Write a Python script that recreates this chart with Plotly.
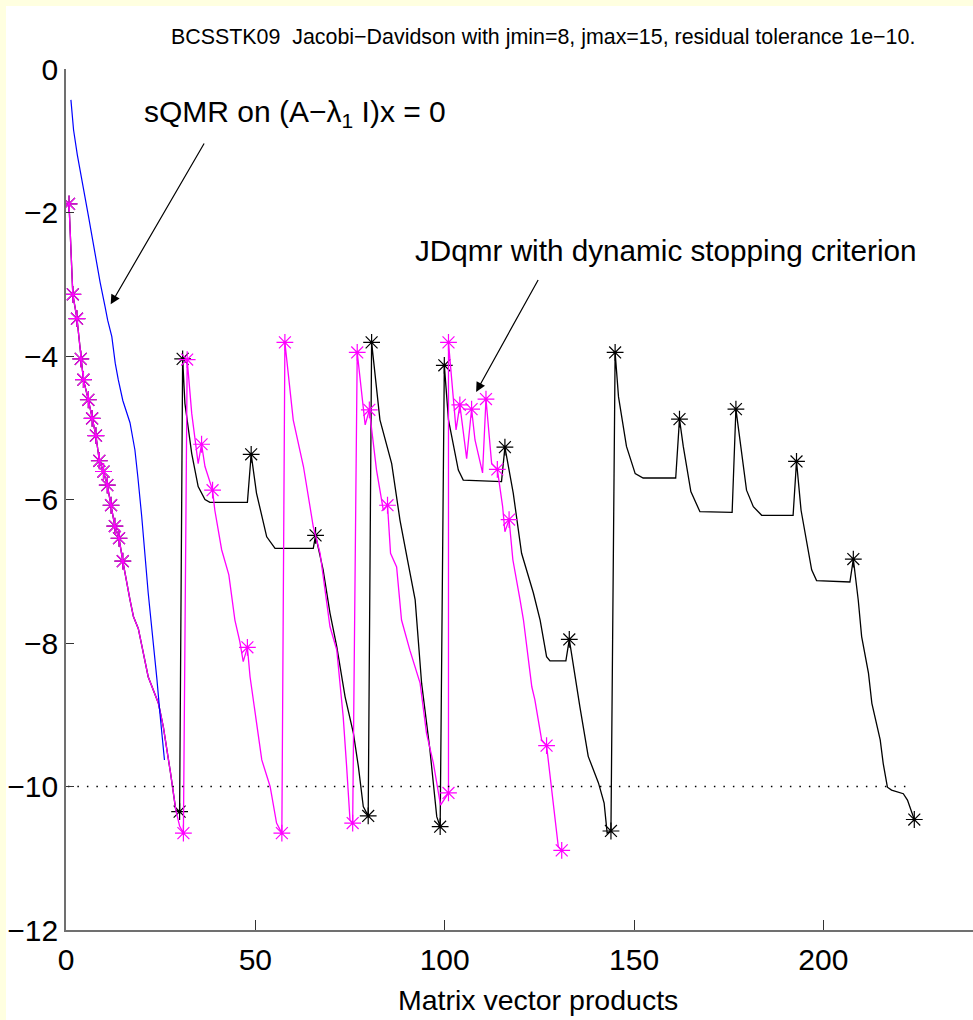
import plotly.graph_objects as go

# ---------------- data ----------------
# sQMR on (A - lambda_1 I)x = 0
blue_x = [1.3, 2, 3, 4.1, 5, 6, 7, 8, 9, 10.3, 11, 12.1, 13, 13.8, 15, 16.9, 18.2, 19, 20, 21.7, 23, 24, 24.8, 26]
blue_y = [-0.43, -0.85, -1.2, -1.5, -1.78, -2.07, -2.37, -2.68, -2.97, -3.31, -3.5, -3.73, -4.1, -4.33, -4.62, -4.93,
          -5.31, -5.7, -6.24, -7.3, -7.95, -8.5, -8.98, -9.63]

# first part shared by both JD runs
shared_x = [0.8, 1.8, 2.9, 3.9, 4.6, 5.9, 6.9, 7.9, 8.8, 9.9, 10.9, 11.9, 12.9, 14.0, 15.0,
            16.9, 17.8, 19.1, 21.7, 24.4, 25.7, 27.6, 29.0]
shared_y = [-1.88, -3.14, -3.48, -4.04, -4.33, -4.61, -4.87, -5.11, -5.46, -5.61, -5.8, -6.08, -6.37, -6.54, -6.86,
            -7.4, -7.63, -7.8, -8.47, -8.84, -9.17, -9.81, -10.33]
shared_star = [1] * 15 + [0] * 8

# JD (black)
black_x = [30.0, 30.8, 31.4, 33.2, 34.9, 36.7, 38.0, 47.9, 48.9, 50.3, 53.0, 55.2, 65.3, 65.9, 67.9, 69.7, 71.5,
           73.7, 75.9, 77.2, 78.5, 79.8, 80.7, 82.9, 86.0, 88.2, 90.2, 92.2, 93.9, 96.1, 97.9, 98.8, 99.9,
           101.0, 103.6, 104.9, 115.0, 115.9, 118.1, 120.3, 123.4, 125.2, 126.9, 127.8, 132.0, 132.9, 135.7,
           137.9, 140.6, 142.1, 142.9, 143.9, 145.0, 145.9, 148.0, 150.3, 152.4, 161.0, 162.0, 163.0, 165.0,
           167.4, 175.9, 176.9, 179.7, 181.5, 183.7, 192.0, 192.9, 194.1, 196.9, 198.2, 207.0, 207.9, 209.2,
           210.1, 211.9, 212.8, 215.0, 215.8, 216.9, 218.0, 221.1, 222.2, 224.0]
black_y = [-10.35, -4.04, -4.66, -5.36, -5.82, -6.0, -6.04, -6.04, -5.37, -5.91, -6.52, -6.68, -6.68, -6.5, -6.98,
           -7.58, -8.05, -8.75, -9.26, -9.72, -10.28, -10.41, -3.81, -4.89, -5.5, -6.29, -6.85, -7.4, -8.56, -9.49,
           -10.42, -10.56, -4.13, -4.89, -5.59, -5.73, -5.75, -5.27, -5.91, -6.75, -7.3, -7.68, -8.19, -8.25,
           -8.25, -7.95, -8.89, -9.58, -9.95, -10.23, -10.65, -10.62, -3.95, -4.57, -5.26, -5.64, -5.7, -5.7,
           -4.88, -5.26, -5.89, -6.17, -6.18, -4.74, -5.87, -6.1, -6.22, -6.22, -5.47, -6.15, -6.98, -7.13, -7.15,
           -6.83, -7.4, -7.91, -8.42, -8.84, -9.35, -9.68, -10.01, -10.05, -10.1, -10.19, -10.46]
black_star = [1, 1, 0, 0, 0, 0, 0, 0, 1, 0, 0, 0, 0, 1, 0, 0, 0, 0, 0, 0, 0, 1, 1, 0, 0, 0, 0, 0, 0, 0, 0, 1, 1,
              0, 0, 0, 0, 1, 0, 0, 0, 0, 0, 0, 0, 1, 0, 0, 0, 0, 0, 1, 1, 0, 0, 0, 0, 0, 1, 0, 0, 0, 0, 1, 0, 0,
              0, 0, 1, 0, 0, 0, 0, 1, 0, 0, 0, 0, 0, 0, 0, 0, 0, 0, 1]

# JDqmr with dynamic stopping criterion (magenta)
mag_x = [30.0, 31.0, 32.0, 33.2, 34.9, 35.8, 36.7, 38.7, 39.3, 41.1, 43.0, 44.6, 45.9, 46.8, 47.9, 48.6, 51.7,
         53.9, 55.6, 57.0, 57.8, 60.0, 62.7, 65.3, 67.1, 69.7, 71.5, 73.2, 74.1, 75.0, 75.7, 76.9, 79.0, 80.1,
         82.0, 83.8, 84.9, 85.7, 87.3, 88.6, 90.8, 93.5, 95.2, 97.0, 98.9, 101.0, 101.0, 103.0, 104.0, 105.8,
         107.1, 108.0, 110.0, 110.9, 112.4, 113.9, 115.3, 115.9, 117.0, 118.0, 119.9, 120.8, 123.0, 123.8,
         125.6, 126.9, 130.0, 130.9]
mag_y = [-10.55, -10.65, -4.05, -4.8, -5.5, -5.23, -5.54, -5.87, -6.15, -6.7, -7.05, -7.68, -7.98, -8.26, -8.06,
         -8.47, -9.63, -10.0, -10.51, -10.65, -3.81, -4.89, -5.54, -6.38, -6.75, -7.77, -8.1, -9.03, -9.72, -10.47,
         -10.51, -3.95, -4.96, -4.75, -5.59, -6.15, -6.08, -6.75, -6.94, -7.68, -8.1, -8.56, -9.26, -9.67,
         -10.26, -10.09, -3.81, -5.03, -4.68, -5.43, -4.74, -5.17, -5.63, -4.6, -5.5, -5.58, -6.1, -6.45, -6.28,
         -6.84, -7.4, -7.68, -8.61, -8.79, -9.35, -9.43, -10.84, -10.89]
mag_star = [0, 1, 1, 0, 0, 1, 0, 1, 0, 0, 0, 0, 0, 0, 1, 0, 0, 0, 0, 1, 1, 0, 0, 0, 0, 0, 0, 0, 0, 0, 1, 1, 0, 1,
            0, 0, 1, 0, 0, 0, 0, 0, 0, 0, 0, 1, 1, 0, 1, 0, 1, 0, 0, 1, 0, 1, 0, 0, 1, 0, 0, 0, 0, 0, 0, 1, 0, 1]

tolerance = -10
tol_x = [0.5, 223]

x_ticks = [0, 50, 100, 150, 200]
y_ticks = [0, -2, -4, -6, -8, -10, -12]

title_text = "BCSSTK09  Jacobi\u2212Davidson with jmin=8, jmax=15, residual tolerance 1e\u221210."
xlabel_text = "Matrix vector products"
sqmr_text = "sQMR on (A\u2212\u03bb<sub>1</sub> I)x = 0"
jd_text = "JDqmr with dynamic stopping criterion"

# ---------------- figure ----------------
FONT = "Liberation Sans, Arial, Helvetica, sans-serif"
W, H = 973, 1020
L, R, T, B = 66, 0, 69, 90
XMAX = (W - L) / 3.787

fig = go.Figure()

bx = shared_x + black_x
by = shared_y + black_y
bs = shared_star + black_star
mx = shared_x + mag_x
my = shared_y + mag_y
ms = shared_star + mag_star

fig.add_trace(go.Scatter(x=bx, y=by, mode="lines", line=dict(color="black", width=1.3), hoverinfo="skip"))
fig.add_trace(go.Scatter(x=[a for a, s in zip(bx, bs) if s], y=[b for b, s in zip(by, bs) if s],
                         mode="markers", marker=dict(symbol="asterisk-open", size=14, color="black",
                                                     line=dict(color="black", width=1.2))))
fig.add_trace(go.Scatter(x=mx, y=my, mode="lines", line=dict(color="#ff00ff", width=1.3), hoverinfo="skip"))
fig.add_trace(go.Scatter(x=[a for a, s in zip(mx, ms) if s], y=[b for b, s in zip(my, ms) if s],
                         mode="markers", marker=dict(symbol="asterisk-open", size=14, color="#ff00ff",
                                                     line=dict(color="#ff00ff", width=1.2))))
fig.add_trace(go.Scatter(x=blue_x, y=blue_y, mode="lines", line=dict(color="#0000ff", width=1.2)))
fig.add_trace(go.Scatter(x=tol_x, y=[tolerance, tolerance], mode="lines",
                         line=dict(color="black", width=1.3, dash="1.5px,8px")))

# white figure area over the pale-yellow border
fig.add_shape(type="rect", xref="paper", yref="paper",
              x0=(6 - L) / (W - L - R), x1=1.05,
              y0=-(B + 5) / (H - T - B), y1=1 + (T - 6) / (H - T - B),
              fillcolor="white", line=dict(width=0), layer="below")

# arrows drawn as annotation arrows from tail (ax, ay) to head (x, y)
fig.add_annotation(text=" ", x=11.8, y=-3.28, ax=37.0, ay=-0.99, axref="x", ayref="y",
                   showarrow=True, arrowhead=2, arrowsize=1.6, arrowwidth=1.2, arrowcolor="black",
                   font=dict(size=4))
fig.add_annotation(text=" ", x=108.3, y=-4.5, ax=125.2, ay=-2.89, axref="x", ayref="y",
                   showarrow=True, arrowhead=2, arrowsize=1.6, arrowwidth=1.2, arrowcolor="black",
                   font=dict(size=4))

fig.add_annotation(text=title_text, xref="paper", yref="paper",
                   x=(543 - L) / (W - L), y=1 + (T - 37) / (H - T - B),
                   showarrow=False, font=dict(size=21.4, color="black", family=FONT),
                   xanchor="center", yanchor="middle")
fig.add_annotation(text=xlabel_text, xref="paper", yref="paper",
                   x=(538 - L) / (W - L), y=-(1000 - (H - B)) / (H - T - B),
                   showarrow=False, font=dict(size=28.5, color="black", family=FONT),
                   xanchor="center", yanchor="middle")
fig.add_annotation(text=sqmr_text, x=(295 - L) / 3.787, y=-(113 - T) / 71.75,
                   showarrow=False, font=dict(size=30, color="black", family=FONT),
                   xanchor="center", yanchor="middle")
fig.add_annotation(text=jd_text, x=(666 - L) / 3.787, y=-(250 - T) / 71.75,
                   showarrow=False, font=dict(size=29.7, color="black", family=FONT),
                   xanchor="center", yanchor="middle")

fig.update_layout(
    width=W, height=H,
    margin=dict(l=L, r=R, t=T, b=B, pad=0),
    paper_bgcolor="#ffffe0", plot_bgcolor="white",
    showlegend=False,
    font=dict(family=FONT, size=29, color="black"),
    xaxis=dict(range=[0, XMAX], tickvals=x_ticks, ticks="inside", ticklen=10, tickwidth=1.2,
               tickcolor="#333", showline=True, linecolor="#707070", linewidth=1.6,
               showgrid=False, zeroline=False, ticklabelstandoff=2,
               tickfont=dict(size=30, family=FONT, color="black")),
    yaxis=dict(range=[-12, 0], tickvals=y_ticks, ticks="inside", ticklen=8, tickwidth=1.2,
               tickcolor="#333", showline=True, linecolor="#707070", linewidth=1.6,
               showgrid=False, zeroline=False, ticklabelstandoff=0,
               tickfont=dict(size=30, family=FONT, color="black")),
)

fig.write_html("out.html")
